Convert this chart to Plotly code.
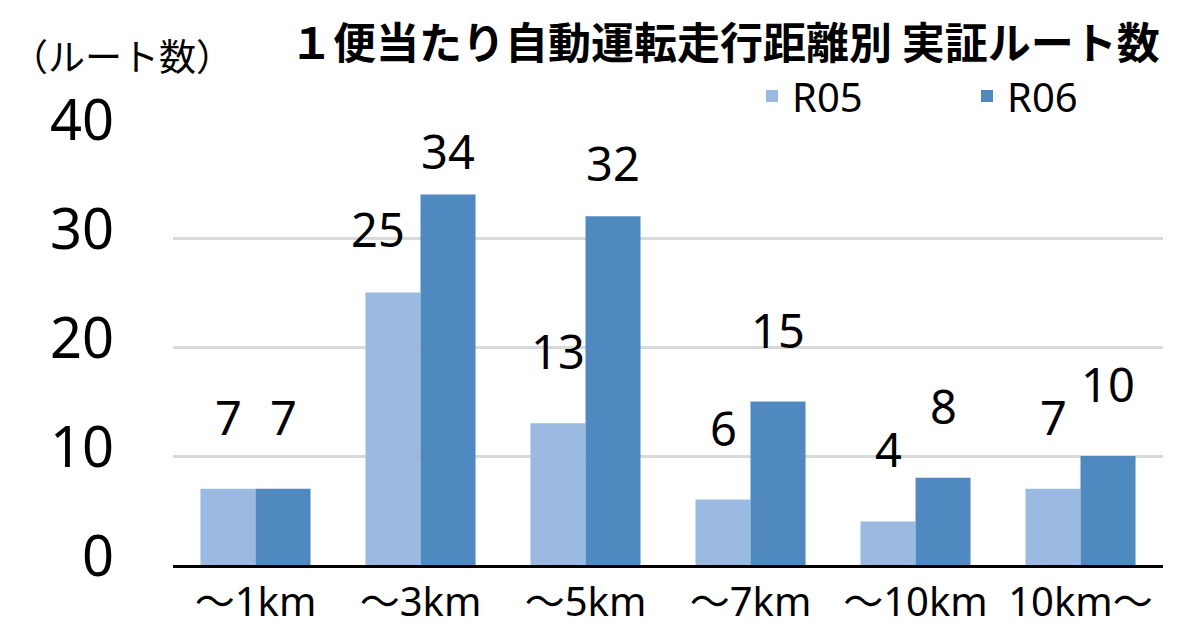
import plotly.graph_objects as go

categories = ["～1km", "～3km", "～5km", "～7km", "～10km", "10km～"]
r05_values = [7, 25, 13, 6, 4, 7]
r06_values = [7, 34, 32, 15, 8, 10]
series_names = ["R05", "R06"]
y_ticks = [0, 10, 20, 30, 40]

title_text = "１便当たり自動運転走行距離別 実証ルート数"
y_label_text = "（ルート数）"

COL_R05 = "#9BBAE1"
COL_R06 = "#5089BF"
FONT = "Noto Sans, Noto Sans CJK JP, sans-serif"
CJK = "Noto Sans CJK JP, sans-serif"

# label nudges (px) for readability, per series/category
nudge_r05 = {1: (-15, -8)}
nudge_r06 = {1: (0, -29), 2: (0, -19)}

# page has an 8px body margin; figure is sized so the page is 1200x630
BODY = 8
W, H = 1200 - BODY, 630 - BODY
PL, PR, PT, PB = 173, 1163, 129, 565  # plot area in page pixels
L, R, T, B = PL - BODY, 1200 - PR, PT - BODY, 630 - PB
pw, ph = PR - PL, PB - PT


def px_x(x):
    return (x - PL) / pw


def px_y(y):
    return 1 - (y - PT) / ph


fig = go.Figure()
fig.add_trace(go.Bar(x=categories, y=r05_values, name=series_names[0],
                     marker=dict(color=COL_R05, line=dict(width=0))))
fig.add_trace(go.Bar(x=categories, y=r06_values, name=series_names[1],
                     marker=dict(color=COL_R06, line=dict(width=0))))

annotations = []
BAR_OFF = 27.5
BASE_LIFT = 38
for i, (cat, v) in enumerate(zip(categories, r05_values)):
    dx, dy = nudge_r05.get(i, (0, 0))
    annotations.append(dict(x=cat, y=v, xref="x", yref="y", text=str(v), showarrow=False,
                            xshift=-BAR_OFF + dx, yshift=BASE_LIFT + dy, yanchor="bottom",
                            font=dict(family=FONT, size=47, color="#000000")))
for i, (cat, v) in enumerate(zip(categories, r06_values)):
    dx, dy = nudge_r06.get(i, (0, 0))
    annotations.append(dict(x=cat, y=v, xref="x", yref="y", text=str(v), showarrow=False,
                            xshift=BAR_OFF + dx, yshift=BASE_LIFT + dy, yanchor="bottom",
                            font=dict(family=FONT, size=47, color="#000000")))

annotations.append(dict(x=px_x(1162), y=px_y(40), xref="paper", yref="paper",
                        text="<b>" + title_text + "</b>",
                        showarrow=False, xanchor="right", yanchor="middle",
                        font=dict(family=CJK, size=43, color="#000000")))
annotations.append(dict(x=px_x(9), y=px_y(55), xref="paper", yref="paper", text=y_label_text,
                        showarrow=False, xanchor="left", yanchor="middle",
                        font=dict(family=CJK, size=37, color="#000000")))

fig.update_layout(
    width=W, height=H,
    margin=dict(l=L, r=R, t=T, b=B, pad=0, autoexpand=False),
    paper_bgcolor="white", plot_bgcolor="white",
    barmode="group", bargap=0.333, bargroupgap=0,
    showlegend=True,
    legend=dict(orientation="h", x=px_x(752), xanchor="left",
                y=px_y(96), yanchor="middle",
                font=dict(family=FONT, size=40, color="#000000"),
                entrywidth=170, entrywidthmode="pixels",
                bgcolor="rgba(0,0,0,0)", traceorder="normal", itemclick=False),
    annotations=annotations,
    xaxis=dict(showgrid=False, ticks="", showline=True, linecolor="#000000", linewidth=2.5,
               automargin=False,
               tickfont=dict(family=FONT, size=40, color="#000000"), zeroline=False),
    yaxis=dict(range=[0, 40], tickvals=y_ticks, ticks="", showline=False,
               showgrid=True, gridcolor="#D9D9D9", gridwidth=2.5, automargin=False,
               zeroline=False, ticklabelstandoff=58, ticklabelshift=-9,
               tickfont=dict(family=FONT, size=56, color="#000000")),
)

fig.write_html("out.html")
